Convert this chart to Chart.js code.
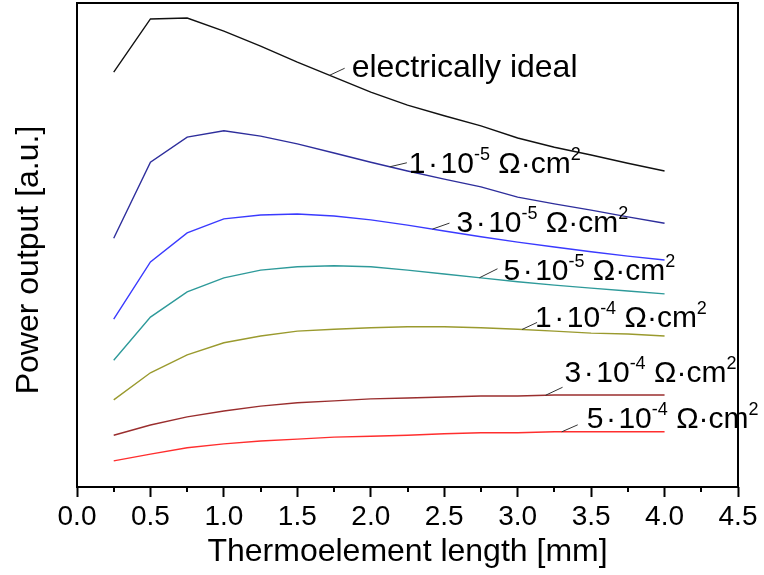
<!DOCTYPE html>
<html>
<head>
<meta charset="utf-8">
<script src="https://cdn.jsdelivr.net/npm/chart.js@4/dist/chart.umd.min.js"></script>
<style>
  html, body { margin: 0; padding: 0; background: #fff; }
  #wrap { width: 764px; height: 575px; }
</style>
</head>
<body>
<div id="wrap"><canvas id="c" width="764" height="575"></canvas></div>
<script>
// Thermoelement length [mm]
const lengthsMm = [0.25, 0.5, 0.75, 1.0, 1.25, 1.5, 1.75, 2.0, 2.25, 2.5, 2.75, 3.0, 3.25, 3.5, 3.75, 4.0];

// Power output [a.u.] for each contact resistance
const powerIdeal = [85.7, 96.7, 96.9, 94.2, 91.1, 87.8, 84.7, 81.6, 78.9, 76.7, 74.6, 72.1, 70.2, 68.6, 66.9, 65.3];
const power1e5   = [51.4, 67.1, 72.3, 73.6, 72.5, 70.9, 69.0, 67.1, 65.3, 63.6, 62.0, 59.9, 58.5, 57.2, 55.8, 54.5];
const power3e5   = [34.7, 46.5, 52.5, 55.4, 56.2, 56.4, 56.0, 55.2, 54.1, 52.9, 51.7, 50.6, 49.6, 48.6, 47.7, 46.9];
const power5e5   = [26.2, 35.1, 40.3, 43.2, 44.8, 45.5, 45.7, 45.5, 44.8, 44.0, 43.2, 42.4, 41.7, 41.1, 40.5, 39.9];
const power1e4   = [18.0, 23.6, 27.3, 29.8, 31.2, 32.2, 32.6, 32.9, 33.1, 33.1, 32.9, 32.6, 32.2, 31.8, 31.6, 31.2];
const power3e4   = [10.7, 12.8, 14.5, 15.7, 16.7, 17.4, 17.8, 18.2, 18.4, 18.6, 18.8, 18.8, 19.0, 19.0, 19.0, 19.0];
const power5e4   = [5.4, 6.8, 8.1, 8.9, 9.5, 9.9, 10.3, 10.5, 10.7, 11.0, 11.2, 11.2, 11.4, 11.4, 11.4, 11.4];

// Curve labels: contact resistance mantissa and exponent
const seriesNames = ['electrically ideal', '1e-5', '3e-5', '5e-5', '1e-4', '3e-4', '5e-4'];
const mantissas   = [null, '1', '3', '5', '1', '3', '5'];
const exponents   = [null, '-5', '-5', '-5', '-4', '-4', '-4'];

// Axis texts and tick labels
const xTitle = 'Thermoelement length [mm]';
const yTitle = 'Power output [a.u.]';
const xTicks = [0.0, 0.5, 1.0, 1.5, 2.0, 2.5, 3.0, 3.5, 4.0, 4.5];

const allSeries = [powerIdeal, power1e5, power3e5, power5e5, power1e4, power3e4, power5e4];
const lineColors = ['#111111', '#2e2e9c', '#3a3aff', '#2e9a9a', '#9a9a2e', '#9a2e2e', '#ff2e2e'];

// Leader line / label placement: anchor on the curve (x in mm), leader end and text origin in px
const labelLayout = [
  { at: 1.72, lead: [15, -7], text: [22, 2] },
  { at: 2.13, lead: [17, -4], text: [19, 6] },
  { at: 2.42, lead: [17, -6], text: [24, 3] },
  { at: 2.74, lead: [18, -9], text: [24, 2] },
  { at: 3.03, lead: [15, -7], text: [13, -2] },
  { at: 3.19, lead: [17, -8], text: [19, -13] },
  { at: 3.30, lead: [16, -7], text: [25, -4] }
];

const FONT = "'Liberation Sans', Arial, Helvetica, sans-serif";

function valueAt(series, xv) {
  for (let i = 0; i < lengthsMm.length - 1; i++) {
    if (xv >= lengthsMm[i] && xv <= lengthsMm[i + 1]) {
      const t = (xv - lengthsMm[i]) / (lengthsMm[i + 1] - lengthsMm[i]);
      return series[i] + t * (series[i + 1] - series[i]);
    }
  }
  return series[series.length - 1];
}

const frameAndLabels = {
  id: 'frameAndLabels',
  afterDatasetsDraw(chart) {
    const { ctx, chartArea: a, scales: { x, y } } = chart;
    ctx.save();
    ctx.strokeStyle = '#000';
    ctx.lineWidth = 2;
    // minor ticks between the labelled ones
    for (let v = 0.25; v < 4.5; v += 0.5) {
      const px = Math.round(x.getPixelForValue(v));
      ctx.beginPath();
      ctx.moveTo(px, a.bottom);
      ctx.lineTo(px, a.bottom + 5);
      ctx.stroke();
    }
    // plot frame
    ctx.strokeRect(a.left, a.top, a.right - a.left, a.bottom - a.top);

    // vertical axis title
    ctx.save();
    ctx.translate(29, (a.top + a.bottom) / 2 + 15);
    ctx.rotate(-Math.PI / 2);
    ctx.font = `32px ${FONT}`;
    ctx.fillStyle = '#000';
    ctx.textAlign = 'center';
    ctx.textBaseline = 'middle';
    ctx.fillText(yTitle, 0, 0);
    ctx.restore();

    // curve labels with leader lines
    ctx.textAlign = 'left';
    ctx.textBaseline = 'alphabetic';
    ctx.fillStyle = '#000';
    labelLayout.forEach((lay, i) => {
      const ax = x.getPixelForValue(lay.at);
      const ay = y.getPixelForValue(valueAt(allSeries[i], lay.at));
      ctx.strokeStyle = '#333';
      ctx.lineWidth = 1;
      ctx.beginPath();
      ctx.moveTo(ax, ay);
      ctx.lineTo(ax + lay.lead[0], ay + lay.lead[1]);
      ctx.stroke();

      let cx = ax + lay.text[0];
      const base = ay + lay.text[1];
      const parts = mantissas[i] === null
        ? [{ t: seriesNames[i], size: 32 }]
        : [
            { t: mantissas[i] + '\u200A\u00B7\u200A10', size: 30 },
            { t: exponents[i], size: 18, sup: true },
            { t: ' \u03A9\u00B7cm', size: 30 },
            { t: '2', size: 18, sup: true }
          ];
      parts.forEach(p => {
        ctx.font = `${p.size}px ${FONT}`;
        ctx.fillText(p.t, cx, p.sup ? base - 13 : base);
        cx += ctx.measureText(p.t).width;
      });
    });
    ctx.restore();
  }
};

const datasets = allSeries.map((s, i) => ({
  label: seriesNames[i],
  data: lengthsMm.map((xv, k) => ({ x: xv, y: s[k] })),
  borderColor: lineColors[i],
  borderWidth: 1.4,
  pointRadius: 0,
  tension: 0,
  fill: false
}));

new Chart(document.getElementById('c'), {
  type: 'line',
  data: { datasets },
  options: {
    responsive: false,
    animation: false,
    layout: { padding: { top: 3, right: 26, left: 0, bottom: 0 } },
    plugins: { legend: { display: false }, tooltip: { enabled: false } },
    scales: {
      x: {
        type: 'linear',
        min: 0,
        max: 4.5,
        afterBuildTicks: s => { s.ticks = xTicks.map(v => ({ value: v })); },
        afterFit: s => { s.height = 88; },
        ticks: {
          color: '#000',
          font: { family: FONT, size: 28 },
          padding: 3,
          maxRotation: 0,
          autoSkip: false,
          callback: v => Number(v).toFixed(1)
        },
        grid: {
          display: true,
          drawOnChartArea: false,
          drawTicks: true,
          tickLength: 10,
          tickWidth: 2,
          tickColor: '#000'
        },
        border: { display: false },
        title: {
          display: true,
          text: xTitle,
          color: '#000',
          font: { family: FONT, size: 32 },
          padding: { top: 0, bottom: 4 }
        }
      },
      y: {
        type: 'linear',
        min: 0,
        max: 100,
        afterFit: s => { s.width = 77; },
        ticks: { display: false },
        grid: { display: false },
        border: { display: false },
        title: { display: false }
      }
    }
  },
  plugins: [frameAndLabels]
});
</script>
</body>
</html>
